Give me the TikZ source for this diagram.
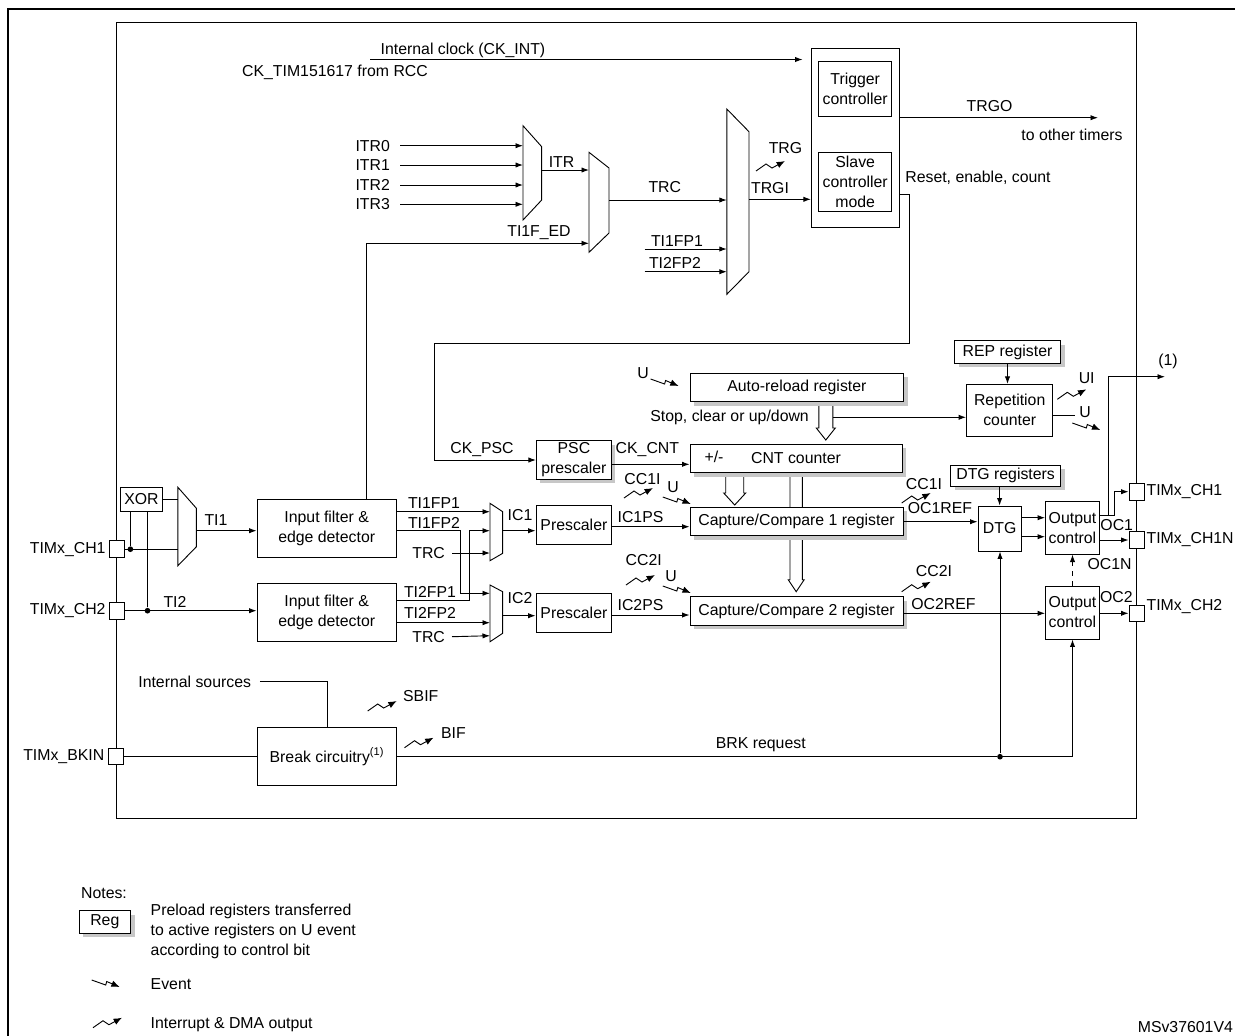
\documentclass[tikz,border=0pt]{standalone}
\usepackage{fontspec}
\setmainfont{Liberation Sans}
\usetikzlibrary{arrows.meta,shadows}
\newcommand\figfont{\fontsize{9.5}{12}\selectfont}
\newcommand\mux[6]{\draw (#1,#2) -- (#4,#5) -- (#4,#6) -- (#1,#3) -- cycle;}
\newcommand\hollow[5]{\draw[fill=white] (#1-#4,#2) -- (#1-#4,#3-12) -- (#1-#5,#3-12) -- (#1,#3) -- (#1+#5,#3-12) -- (#1+#4,#3-12) -- (#1+#4,#2);}
\begin{document}
\begin{tikzpicture}[x=0.6pt,y=-0.6pt,line width=0.55pt,>={Latex[length=4.5pt,width=3.2pt]},
 txt/.style={inner sep=1pt,font=\figfont},
 blk/.style={draw,fill=white,inner sep=1pt,font=\figfont,align=center},
 reg/.style={blk,general shadow={fill=black!22,shadow xshift=2.4pt,shadow yshift=-2.4pt}},
 sz/.style 2 args={minimum width=#1*0.6pt,minimum height=#2*0.6pt},
 pad/.style={draw,fill=white,inner sep=0pt,minimum width=9pt,minimum height=10pt},
 dot/.style={circle,fill,inner sep=1.2pt},
 intr/.pic={\draw[-{Latex[length=5pt,width=4pt]}] (0,0) -- (10,-7) -- (16,-3) -- (29,-10);},
 evt/.pic={\draw[-{Latex[length=5pt,width=4pt]}] (0,0) -- (14,5) -- (15,1.5) -- (28,7);}]
\useasboundingbox (0,0) rectangle (1235,1035);
\draw[line width=1.4pt] (8.3,1040) -- (8.3,9.3) -- (1240,9.3);
\draw (116.6,22.7) rectangle (1136.7,818);

\node[txt] (ckint) at (463,50) {Internal clock (CK\_INT)};
\node[txt] (ckrcc) at (335,72) {CK\_TIM151617 from RCC};
\node[draw,sz={88.3}{179.7},inner sep=0pt] (ctrl) at (855.5,137.9) {};
\node[blk,sz={72.9}{54.3}] (trig) at (855.2,88.9) {Trigger\\controller};
\node[blk,sz={73}{59.4}] (slave) at (855.2,182) {Slave\\controller\\mode};
\draw[->] ([xshift=-5pt]ckint.south west) -- ([xshift=-5pt]ckint.south west -| ctrl.west);
\coordinate (trgo) at (1098,117.7);
\draw[->] (ctrl.east |- trgo) -- (trgo);
\node[txt] (trgolbl) at (989.6,105.7) {TRGO};
\node[txt] (oth) at (1072,134.7) {to other timers};
\node[txt] (rst) at (978,177.7) {Reset, enable, count};

\mux{523}{125.7}{220}{541.7}{146.7}{200}
\foreach \i/\y in {0/145.7,1/165,2/185,3/204.3}{
 \node[txt,anchor=east] (itr\i) at (392,\y) {ITR\i};
 \draw[->] ([xshift=5pt]itr\i.east) -- (523,\y);}
\draw[->] (541.7,170) -- (589,170);
\node[txt] (itr) at (561.5,161.7) {ITR};
\mux{589}{152.3}{252.3}{609}{168}{233}
\node[txt] (tied) at (539,232.3) {TI1F\_ED};
\draw[->] (609,200) -- (726.8,200);
\node[txt] (trc0) at (664.8,187.3) {TRC};
\mux{726.8}{109}{294.3}{749}{131.7}{271.7}
\node[txt] (tifpa) at (677,240.7) {TI1FP1};
\draw[->] (644.6,249) -- (726.8,249);
\node[txt] (tifpb) at (675,263.3) {TI2FP2};
\draw[->] (644.6,271.7) -- (726.8,271.7);
\draw[->] (749,199.3) -- (ctrl.west |- 0,199.3);
\node[txt] (trgi) at (770,188.3) {TRGI};
\node[txt] (trg) at (785.5,147.7) {TRG};
\pic at (756,171) {intr};

\hollow{825.8}{401.7}{440}{7}{9.5}
\hollow{734.7}{472.7}{505}{9}{11}
\hollow{796.2}{472.7}{591.7}{6.2}{8}
\node[reg,sz={213.8}{28.4}] (arr) at (796.9,387.5) {Auto-reload register};
\node[reg,sz={212}{28.7}] (cnt) at (796,458.4) {CNT counter};
\node[txt] (pm) at (714,456.7) {+/-};
\node[reg,sz={75}{38.6}] (psc) at (573.9,460) {PSC\\prescaler};
\node[reg,sz={213}{28.4}] (cc1) at (796.5,521.5) {Capture/Compare 1 register};
\node[reg,sz={213}{28.3}] (cc2) at (796.5,610.9) {Capture/Compare 2 register};
\node[blk,sz={75.7}{39.3}] (pre1) at (573.9,524.7) {Prescaler};
\node[blk,sz={75.7}{39.4}] (pre2) at (573.9,613) {Prescaler};
\node[reg,sz={106}{22.6}] (rep) at (1007.5,352) {REP register};
\node[blk,sz={86.3}{51.7}] (repc) at (1009.7,410.2) {Repetition\\counter};
\node[reg,sz={109.8}{21}] (dtgr) at (1005.6,475.5) {DTG registers};
\node[blk,sz={43.3}{45}] (dtg) at (999.6,528.5) {DTG};
\node[blk,sz={53.9}{52.3}] (oc1) at (1072.5,527.9) {Output\\control};
\node[blk,sz={53.9}{53}] (oc2) at (1072.5,612.5) {Output\\control};

\draw[->] (ctrl.east |- 0,194.3) -- (909.8,194.3) -- (909.8,343.3) -- (434,343.3) |- (psc.west);
\node[txt] (ckpsc) at (482,450) {CK\_PSC};
\draw[->] (psc.east |- 0,464.3) -- (cnt.west |- 0,464.3);
\node[txt] (ckcnt) at (647.4,449.3) {CK\_CNT};
\node[txt] (u0) at (643,372.7) {U};
\pic at (650.6,379) {evt};
\node[txt] (stp) at (729.6,417.3) {Stop, clear or up/down};
\coordinate (stp1) at (832.9,417.3);
\draw[->] (stp1) -- (repc.west |- stp1);
\draw[->] (rep.south) -- (rep.south |- repc.north);
\node[txt] (ui) at (1086.7,378.3) {UI};
\pic at (1057.3,399.3) {intr};
\coordinate (uend) at (1075,415);
\draw (repc.east |- uend) -- (uend);
\node[txt] (u1) at (1085,411.7) {U};
\pic at (1072.3,423) {evt};

\draw[->] (pre1.east |- 0,526.7) -- (cc1.west |- 0,526.7);
\node[txt] (icpsa) at (640.5,516.7) {IC1PS};
\draw[->] (pre2.east |- 0,615) -- (cc2.west |- 0,615);
\node[txt] (icpsb) at (640.5,605) {IC2PS};
\node[txt] (ccia) at (642.5,479.3) {CC1I};
\pic at (624,498) {intr};
\node[txt] (ua) at (673,486.7) {U};
\pic at (662.8,497) {evt};
\node[txt] (ccib) at (643.7,560) {CC2I};
\pic at (626,585) {intr};
\node[txt] (ub) at (671,576) {U};
\pic at (662.8,586) {evt};
\node[txt] (ccic) at (924,484) {CC1I};
\pic at (901.7,503) {intr};
\node[txt] (ocref1) at (940,508.3) {OC1REF};
\draw[->] (cc1.east |- 0,521.7) -- (dtg.west |- 0,521.7);
\node[txt] (ccid) at (934,570.7) {CC2I};
\pic at (901.7,591.7) {intr};
\node[txt] (ocref2) at (943.5,604) {OC2REF};
\draw[->] (cc2.east |- 0,613.3) -- (oc2.west |- 0,613.3);
\draw[->] (dtgr.south -| dtg) -- (dtg.north);
\foreach \y in {517.7,536.7}
 \draw[->] (dtg.east |- 0,\y) -- (oc1.west |- 0,\y);
\draw[->,dashed] (oc2.north) -- (oc1.south);

\node[pad] (ch1r) at (1136.5,491.7) {};
\node[pad] (ch1n) at (1136.5,540) {};
\node[pad] (ch2r) at (1136.5,613.3) {};
\node[txt,anchor=west] at (ch1r.east) {TIMx\_CH1};
\node[txt,anchor=west] at (ch1n.east) {TIMx\_CH1N};
\node[txt,anchor=west] at ([yshift=4pt]ch2r.east) {TIMx\_CH2};
\coordinate (one) at (1165,376.7);
\draw[->] (oc1.east |- 0,515) -- (1108.3,515) |- (one);
\draw[->] (1108.3,515) -- (1114,515) |- (ch1r.west);
\node[txt] (onelbl) at (1168,361.7) {(1)};
\draw[->] (oc1.east |- ch1n) -- (ch1n.west);
\draw[->] (oc2.east |- ch2r) -- (ch2r.west);
\node[txt] (oca) at (1116.7,525) {OC1};
\node[txt] (ocn) at (1109.5,564.3) {OC1N};
\node[txt] (ocb) at (1116.4,596.7) {OC2};

\node[blk,sz={42.1}{24.4}] (xor) at (141.5,499.5) {XOR};
\mux{177.9}{487.3}{565.7}{196.4}{508.3}{546.7}
\draw (xor.east) -- (xor.east -| 177.9,0);
\node[blk,sz={139.4}{58.7}] (filt1) at (326.7,528.4) {Input filter \&\\edge detector};
\node[blk,sz={139.4}{58.4}] (filt2) at (326.7,612.5) {Input filter \&\\edge detector};
\node[pad] (ch1l) at (117.3,549.2) {};
\node[pad] (ch2l) at (117.3,610.7) {};
\node[txt,anchor=east] at ([xshift=-1pt]ch1l.west) {TIMx\_CH1};
\node[txt,anchor=east] at ([xshift=-1pt]ch2l.west) {TIMx\_CH2};
\draw (ch1l.east) -- (ch1l.east -| 177.9,0);
\node[dot] (d1) at (130.4,549.2) {};
\draw (d1) -- (d1 |- xor.south);
\draw[->] (ch2l.east) -- (filt2.west |- ch2l);
\node[dot] (d2) at (147.5,610.7) {};
\draw (d2) -- (d2 |- xor.south);
\draw[->] (196.4,530.7) -- (filt1.west |- 0,530.7);
\node[txt] (tia) at (216,520) {TI1};
\node[txt] (tib) at (175,601.7) {TI2};
\draw[->] (filt1.north -| 366,0) |- (589,243.3);

\mux{490}{503.3}{560.7}{502.7}{511.7}{553.3}
\mux{490}{585}{641.7}{502.7}{591.7}{633.3}
\draw[->] (filt1.east |- 0,511.7) -- (490,511.7);
\node[txt] (fpa) at (434,503.3) {TI1FP1};
\draw[->] (filt1.east |- 0,530.7) -- (460.7,530.7) -- (460.7,593.3) -- (490,593.3);
\node[txt] (fpb) at (434,522.7) {TI1FP2};
\node[txt,anchor=east] (trca) at (447,553) {TRC};
\draw[->] ([xshift=3pt]trca.east) -- (490,553);
\draw[->] (filt2.east |- 0,600) -- (469,600) -- (469,530.7) -- (490,530.7);
\node[txt] (fpc) at (430,592.3) {TI2FP1};
\draw[->] (filt2.east |- 0,622.7) -- (490,622.7);
\node[txt] (fpd) at (430,612.7) {TI2FP2};
\node[txt,anchor=east] (trcb) at (447,636.7) {TRC};
\draw[->] ([xshift=3pt]trcb.east) -- (490,635.7);
\draw[->] (502.7,530.7) -- (pre1.west |- 0,530.7);
\node[txt] (ica) at (520,515) {IC1};
\draw[->] (502.7,615.7) -- (pre2.west |- 0,615.7);
\node[txt] (icb) at (520,598.3) {IC2};

\node[blk,sz={138.4}{58.4}] (brk) at (327,756.5) {Break circuitry\textsuperscript{(1)}};
\node[txt] (isrc) at (194.7,681.7) {Internal sources};
\draw ([xshift=4pt]isrc.east) -| (brk.north);
\node[pad] (bkin) at (116,756.3) {};
\node[txt,anchor=east] at ([xshift=-1pt]bkin.west) {TIMx\_BKIN};
\draw (bkin.east) -- (brk.west |- bkin);
\node[dot] (d3) at (1000,756.7) {};
\draw (brk.east |- d3) -- (d3);
\draw[->] (d3) -- (d3 |- dtg.south);
\draw[->] (d3.center) -| (oc2.south);
\node[txt] (brkreq) at (760.8,745) {BRK request};
\pic at (367.7,711) {intr};
\node[txt,anchor=west] (sbif) at (401,695.7) {SBIF};
\pic at (404.5,747.7) {intr};
\node[txt,anchor=west] (bif) at (439,732.7) {BIF};

\node[txt,anchor=west] (notes) at (79,892.7) {Notes:};
\node[reg,sz={51.5}{22.6}] (regbox) at (104.8,922) {Reg};
\foreach \t [count=\k] in {Preload registers transferred,to active registers on U event,according to control bit}
 \node[txt,anchor=west] at (148.6,891.7+20*\k) {\t};
\pic at (91.7,980) {evt};
\node[txt,anchor=west] (evtlbl) at (148.6,984.3) {Event};
\pic at (93,1027.7) {intr};
\node[txt,anchor=west] (intrlbl) at (148.6,1024.3) {Interrupt \& DMA output};
\node[txt,anchor=east] (msv) at (1235,1026.7) {MSv37601V4};
\end{tikzpicture}
\end{document}
